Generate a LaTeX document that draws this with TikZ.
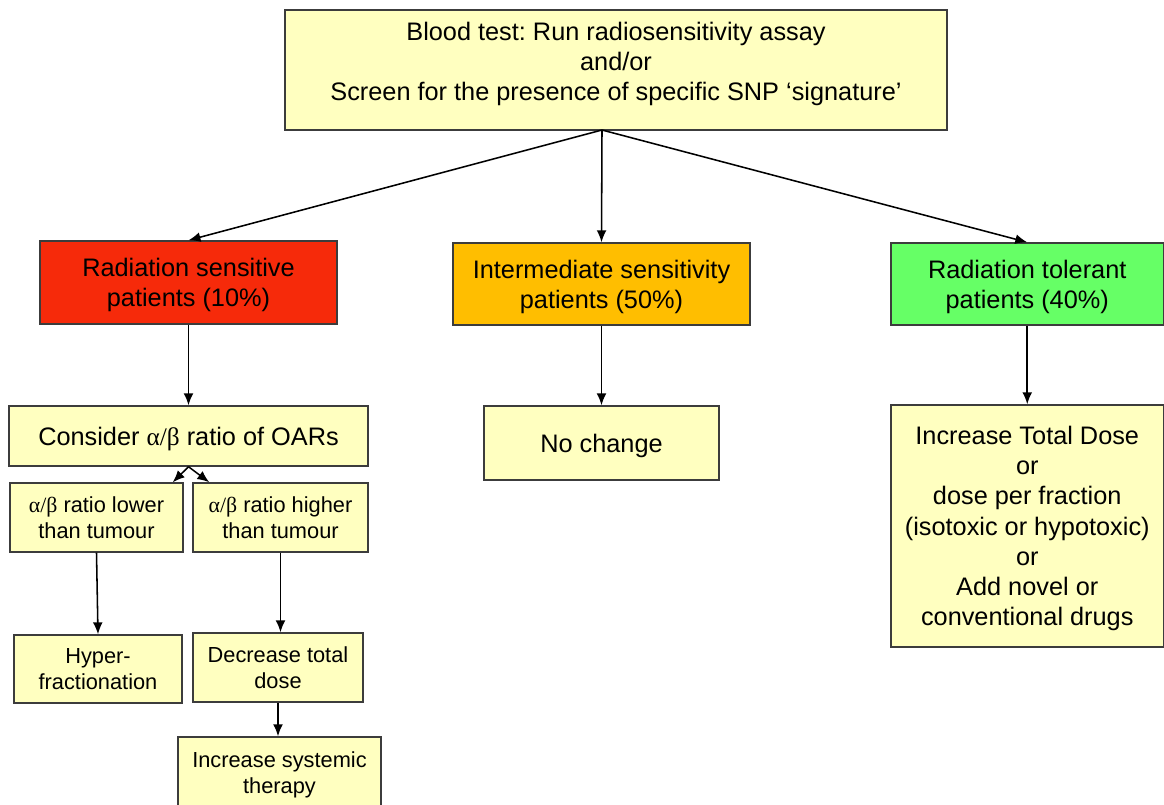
\documentclass[tikz,border=0pt]{standalone}
\usepackage{fontspec}
\setmainfont{Liberation Sans}
\newfontfamily\greekfont{Liberation Serif}
\usepackage{tikz}
\usetikzlibrary{positioning, calc, arrows.meta}
\frenchspacing

\definecolor{boxyellow}{RGB}{255,255,192}
\definecolor{boxline}{RGB}{60,60,60}
\definecolor{sensred}{RGB}{246,42,10}
\definecolor{interorange}{RGB}{255,190,0}
\definecolor{tolgreen}{RGB}{102,255,102}

\newcommand{\ratioab}{{\greekfont α/β}}

\begin{document}
\begin{tikzpicture}[x=0.025cm, y=-0.025cm,
	box/.style={draw=boxline, line width=1pt, fill=boxyellow, inner sep=0pt, align=center,
		text depth=0pt, font=\fontsize{18}{21.5}\selectfont},
	smallbox/.style={box, font=\fontsize{15.5}{18.5}\selectfont},
	arr/.style={-{Latex[length=8.5pt,width=7pt]}, line width=1.1pt}]

	\useasboundingbox[fill=white] (0,0) rectangle (1164,804);

	% screening
	\node [box, text depth=12pt, minimum width=16.55cm, minimum height=3cm] (test) at (616,70)
		{Blood test: Run radiosensitivity assay\\and/or\\Screen for the presence of specific SNP `signature'};
	\coordinate (split) at (602,130);

	% patient groups
	\node [box, fill=sensred, minimum width=7.425cm, minimum height=2.075cm] (sens) at (188.5,282.5)
		{Radiation sensitive\\patients (10\%)};
	\node [box, fill=interorange, minimum width=7.425cm, minimum height=2.05cm] (inter) at (601.5,284)
		{Intermediate sensitivity\\patients (50\%)};
	\node [box, fill=tolgreen, minimum width=6.81cm, minimum height=2.05cm] (toler) at (1027.25,284)
		{Radiation tolerant\\patients (40\%)};

	% second level
	\node [box, minimum width=8.975cm, minimum height=1.5cm] (consider) at (188.5,436)
		{Consider \ratioab\ ratio of OARs};
	\node [box, minimum width=5.875cm, minimum height=1.85cm] (nochange) at (601.5,443)
		{No change};
	\node [box, minimum width=6.81cm, minimum height=6.05cm] (increase) at (1027.25,526)
		{Increase Total Dose\\or\\dose per fraction\\(isotoxic or hypotoxic)\\or\\Add novel or\\conventional drugs};

	% alpha/beta branches
	\node [smallbox, minimum width=4.325cm, minimum height=1.725cm] (lower) at (96.5,517.5)
		{\ratioab\ ratio lower\\than tumour};
	\node [smallbox, minimum width=4.375cm, minimum height=1.725cm] (higher) at (280.5,517.5)
		{\ratioab\ ratio higher\\than tumour};
	\node [smallbox, minimum width=4.2cm, minimum height=1.7cm] (hyper) at (98,669)
		{Hyper-\\fractionation};
	\node [smallbox, minimum width=4.25cm, minimum height=1.725cm] (decrease) at (278,667.5)
		{Decrease total\\dose};
	\node [smallbox, minimum width=5.075cm, minimum height=1.8cm] (systemic) at (279.5,773)
		{Increase systemic\\therapy};

	\draw [arr] (split) -- (sens.north);
	\draw [arr] (split) -- (inter.north);
	\draw [arr] (split) -- (toler.north);
	\draw [arr] (sens.south) -- (consider.north);
	\draw [arr] (inter.south) -- (nochange.north);
	\draw [arr] (toler.south) -- (increase.north);
	\draw [arr] (consider.south) -- ($(lower.north east)+(-11,0)$);
	\draw [arr] (consider.south) -- ($(higher.north west)+(17,0)$);
	\draw [arr] (lower.south) -- (hyper.north);
	\draw [arr] (higher.south) -- (higher.south |- decrease.north);
	\draw [arr] (decrease.south) -- (decrease.south |- systemic.north);

\end{tikzpicture}
\end{document}
